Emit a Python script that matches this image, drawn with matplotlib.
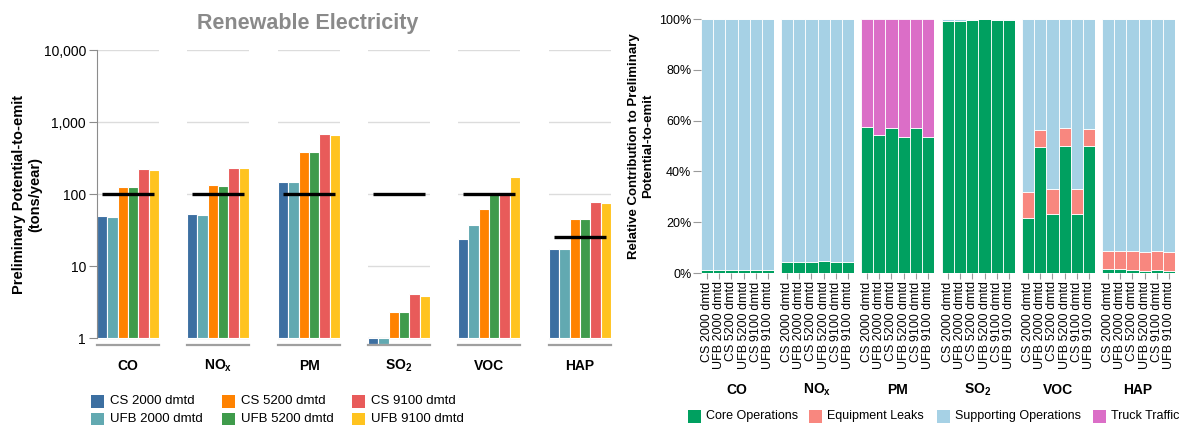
import numpy as np
import matplotlib
matplotlib.use('Agg')
import matplotlib.pyplot as plt
from matplotlib.patches import Rectangle
from matplotlib.ticker import FixedLocator, NullLocator, FuncFormatter

plt.rcParams['font.family'] = ['Liberation Sans', 'DejaVu Sans']
plt.rcParams['mathtext.fontset'] = 'custom'
plt.rcParams['mathtext.rm'] = 'Liberation Sans'
plt.rcParams['mathtext.bf'] = 'Liberation Sans:bold'

# data
pollutants = ['CO', r'NO$_\mathbf{x}$', 'PM', r'SO$_\mathbf{2}$', 'VOC', 'HAP']
cases = ['CS 2000 dmtd', 'UFB 2000 dmtd', 'CS 5200 dmtd',
         'UFB 5200 dmtd', 'CS 9100 dmtd', 'UFB 9100 dmtd']
case_colors = ['#3c6fa1', '#62a9b1', '#ff8200', '#3f9b4b', '#e85b5a', '#ffc31f']

pte_co = [49, 48, 126, 125, 220, 218]
pte_nox = [52, 51, 132, 131, 232, 227]
pte_pm = [147, 146, 387, 385, 681, 667]
pte_so2 = [0.83, 0.83, 2.28, 2.28, 4.05, 3.8]
pte_voc = [23.9, 37.5, 62.5, 102, 108, 170]
pte_hap = [17.1, 17.1, 44.5, 44.5, 76.6, 76]
pte = [pte_co, pte_nox, pte_pm, pte_so2, pte_voc, pte_hap]
threshold = [100, 100, 100, 100, 100, 25]

sources = ['Core Operations', 'Equipment Leaks', 'Supporting Operations', 'Truck Traffic']
source_colors = ['#00a060', '#f8877f', '#a6d1e5', '#db6ec7']
core = [[1.0, 1.1, 1.2, 1.2, 1.1, 1.2],
        [4.3, 4.4, 4.4, 4.6, 4.4, 4.5],
        [57.4, 54.2, 56.9, 53.5, 57.0, 53.5],
        [99.2, 99.3, 99.6, 99.9, 99.6, 99.8],
        [21.7, 49.7, 23.2, 50.1, 23.2, 50.1],
        [1.5, 1.4, 1.0, 0.9, 1.1, 0.9]]
leaks = [[0, 0, 0, 0, 0, 0],
         [0, 0, 0, 0, 0, 0],
         [0, 0, 0, 0, 0, 0],
         [0, 0, 0, 0, 0, 0],
         [10.2, 6.7, 10.0, 7.0, 9.7, 6.7],
         [7.1, 7.2, 7.5, 7.4, 7.4, 7.3]]
support = [[99.0, 98.9, 98.8, 98.8, 98.9, 98.8],
           [95.7, 95.6, 95.6, 95.4, 95.6, 95.5],
           [0, 0, 0, 0, 0, 0],
           [0.8, 0.7, 0.4, 0.1, 0.4, 0.2],
           [68.1, 43.6, 66.8, 42.9, 67.1, 43.2],
           [91.4, 91.4, 91.5, 91.7, 91.5, 91.8]]
truck = [[0, 0, 0, 0, 0, 0],
         [0, 0, 0, 0, 0, 0],
         [42.6, 45.8, 43.1, 46.5, 43.0, 46.5],
         [0, 0, 0, 0, 0, 0],
         [0, 0, 0, 0, 0, 0],
         [0, 0, 0, 0, 0, 0]]

W, H = 1182, 425
fig = plt.figure(figsize=(W / 100, H / 100), dpi=100)


def box(x0, y0, x1, y1):
    # pixel box (from top left) -> figure fraction rect
    return [x0 / W, 1 - y1 / H, (x1 - x0) / W, (y1 - y0) / H]


def legend_item(x, y, color, text, size=9.5, gap=19):
    fig.add_artist(Rectangle((x / W, 1 - (y + 6.5) / H), 13 / W, 13 / H,
                             transform=fig.transFigure, fc=color, ec='none'))
    fig.text((x + gap) / W, 1 - y / H, text, ha='left', va='center', fontsize=size)


grey = '#8c8c8c'
x = np.arange(6)

# ---- left: potential to emit, log scale
left_x = [97, 187, 278, 368, 458, 549]
for i, l in enumerate(left_x):
    ax = fig.add_axes(box(l, 50, l + 62, 345))
    ax.set_yscale('log')
    vals = np.array(pte[i])
    ax.bar(x, vals - 1, bottom=1, width=1.0, color=case_colors,
           edgecolor='white', linewidth=0.8, zorder=2)
    ax.hlines(threshold[i], -0.05, 5.0, color='black', lw=2.4, zorder=3)
    ax.set_xlim(-0.5, 5.5)
    ax.set_ylim(0.8, 10000)
    ax.yaxis.set_major_locator(FixedLocator([1, 10, 100, 1000, 10000]))
    ax.yaxis.set_minor_locator(NullLocator())
    ax.yaxis.set_major_formatter(FuncFormatter(lambda v, p: f'{v:,.0f}'))
    ax.grid(axis='y', color='#dcdcdc', lw=1)
    ax.set_axisbelow(True)
    ax.set_xticks([])
    for s in ['top', 'right']:
        ax.spines[s].set_visible(False)
    ax.spines['bottom'].set_color('#a0a0a0')
    ax.spines['bottom'].set_linewidth(1.6)
    if i == 0:
        ax.spines['left'].set_color(grey)
        ax.spines['left'].set_bounds(1, 10000)
        ax.tick_params(axis='y', length=6, color=grey, labelsize=10, pad=2)
    else:
        ax.spines['left'].set_visible(False)
        ax.tick_params(axis='y', length=0, labelleft=False)
    fig.text((l + 31) / W, 1 - 366 / H, pollutants[i], ha='center', va='center',
             fontsize=10, fontweight='bold')

fig.text(308 / W, 1 - 24 / H, 'Renewable Electricity', ha='center', va='center',
         fontsize=15.5, fontweight='bold', color='#8a8a8a')
fig.text(27 / W, 1 - 194 / H, 'Preliminary Potential-to-emit\n(tons/year)',
         ha='center', va='center', rotation=90, fontsize=10.5,
         fontweight='bold', linespacing=1.15)

leg_cols = [91, 222, 352]
for k in range(6):
    legend_item(leg_cols[k // 2], [401, 419][k % 2], case_colors[k], cases[k])

# ---- right: relative contribution, stacked
right_x = [701, 781, 861, 942, 1022, 1102]
for i, l in enumerate(right_x):
    ax = fig.add_axes(box(l, 19, l + 73, 273))
    bottom = np.zeros(6)
    for part, c in zip([core[i], leaks[i], support[i], truck[i]], source_colors):
        ax.bar(x, part, bottom=bottom, width=1.0, color=c,
               edgecolor='white', linewidth=0.6)
        bottom += np.array(part)
    ax.set_xlim(-0.5, 5.5)
    ax.set_ylim(0, 100)
    ax.set_xticks(x)
    ax.set_xticklabels(cases, rotation=90, fontsize=9)
    ax.tick_params(axis='x', length=4, color='#9a9a9a', pad=2)
    ax.set_yticks([0, 20, 40, 60, 80, 100])
    for s in ax.spines.values():
        s.set_visible(False)
    if i == 0:
        ax.set_yticklabels([f'{v}%' for v in range(0, 101, 20)])
        ax.tick_params(axis='y', length=6, color='#9a9a9a', labelsize=9, pad=1)
    else:
        ax.tick_params(axis='y', length=0, labelleft=False)
    fig.text((l + 36) / W, 1 - 390 / H, pollutants[i], ha='center', va='center',
             fontsize=10, fontweight='bold')

fig.text(641 / W, 1 - 146 / H, 'Relative Contribution to Preliminary\nPotential-to-emit',
         ha='center', va='center', rotation=90, fontsize=9.5,
         fontweight='bold', linespacing=1.15)

for xs, c, t in zip([688, 809, 937, 1093], source_colors, sources):
    legend_item(xs, 416, c, t, size=9, gap=18)

fig.savefig('out.png', dpi=100)
